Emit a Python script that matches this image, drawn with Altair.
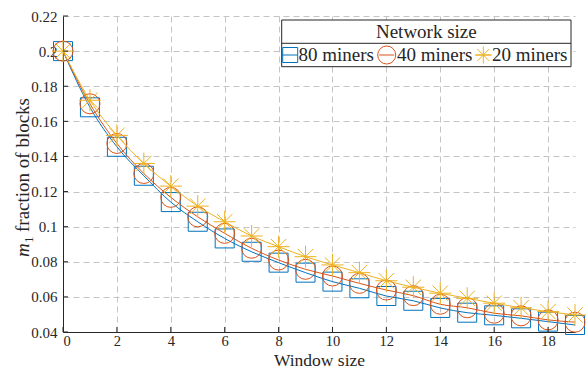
import altair as alt
import pandas as pd

# Fraction of blocks mined by m1 versus window size, for three network sizes
window = list(range(20))
m80 = [0.200, 0.168, 0.1455, 0.129, 0.114, 0.1028, 0.0933, 0.0857, 0.0795, 0.0738,
       0.0687, 0.0649, 0.0605, 0.0578, 0.0537, 0.0510, 0.0495, 0.0478, 0.0459, 0.0440]
m40 = [0.200, 0.170, 0.1474, 0.1303, 0.1167, 0.1056, 0.0962, 0.0877, 0.0810, 0.0757,
       0.0719, 0.0677, 0.0639, 0.0607, 0.0558, 0.0538, 0.0507, 0.0492, 0.0469, 0.0456]
m20 = [0.200, 0.172, 0.152, 0.136, 0.1231, 0.1117, 0.1028, 0.0947, 0.0886, 0.0829,
       0.0782, 0.0738, 0.0692, 0.0655, 0.0621, 0.0592, 0.0564, 0.0538, 0.0516, 0.0497]

series_names = ["80 miners", "40 miners", "20 miners"]
series_values = [m80, m40, m20]
series_colors = ["#0072BD", "#D95319", "#EDB120"]

legend_title = "Network size"
x_title = "Window size"
y_title_sym = "m"
y_title_sub = "1"
y_title_rest = "fraction of blocks"

x_ticks = [0, 2, 4, 6, 8, 10, 12, 14, 16, 18]
y_ticks = [0.04, 0.06, 0.08, 0.10, 0.12, 0.14, 0.16, 0.18, 0.20, 0.22]

STAR = "M-1,0L1,0M0,-1L0,1M-0.7,-0.7L0.7,0.7M-0.7,0.7L0.7,-0.7"
marker_shapes = ["square", "circle", STAR]
marker_sizes = [361, 400, 484]
legend_marker_sizes = [225, 324, 289]

FONT = "Liberation Serif"
INK = "#262626"
W, H = 512, 316

x_scale = alt.Scale(domain=[0, 19], nice=False, zero=False)
y_scale = alt.Scale(domain=[0.04, 0.22], nice=False, zero=False)

grid_style = dict(grid=True, gridDash=[6, 4], gridColor="#c4c4c4", gridWidth=1,
                  ticks=False, domainColor=INK, domainWidth=1, labelOverlap=False,
                  labelFont=FONT, labelColor=INK)

x_axis = alt.Axis(values=x_ticks, format="d", title=x_title, labelPadding=2,
                  labelFontSize=14.5,
                  titleFont=FONT, titleFontSize=17.5, titleFontWeight="normal",
                  titleColor=INK, titleBaseline="alphabetic", titleY=33,
                  **grid_style)
y_axis = alt.Axis(values=y_ticks, format=".2~f", title=None, labelPadding=6,
                  labelFontSize=15, **grid_style)


def xq(field):
    return alt.X(field, type="quantitative", scale=x_scale, axis=x_axis)


def yq(field):
    return alt.Y(field, type="quantitative", scale=y_scale, axis=y_axis)


layers = []

# series lines and markers
for name, vals, col, shp, sz in zip(series_names, series_values, series_colors,
                                    marker_shapes, marker_sizes):
    df = pd.DataFrame({"window": window, "m1": vals, "series": name})
    layers.append(alt.Chart(df).mark_line(color=col, strokeWidth=1,
                                          interpolate="monotone").encode(
        x=xq("window"), y=yq("m1")))
    layers.append(alt.Chart(df).mark_point(shape=shp, size=sz, filled=False,
                                           color=col, strokeWidth=1,
                                           opacity=1).encode(
        x=xq("window"), y=yq("m1")))

# inward tick marks
xt = pd.DataFrame({"window": x_ticks})
yt = pd.DataFrame({"m1": y_ticks})
layers.append(alt.Chart(xt).mark_rule(color=INK, strokeWidth=1).encode(
    x=xq("window"), y=alt.value(H), y2=alt.value(H - 5)))
layers.append(alt.Chart(yt).mark_rule(color=INK, strokeWidth=1).encode(
    y=yq("m1"), x=alt.value(0), x2=alt.value(5)))

# legend box
one = pd.DataFrame({"t": [legend_title]})
box_l, box_r, box_t, box_b, box_mid = 218.7, 508, 4, 50.7, 27.3
layers.append(alt.Chart(one).mark_rect(fill="white", stroke=INK, strokeWidth=1).encode(
    x=alt.value(box_l), x2=alt.value(box_r), y=alt.value(box_t), y2=alt.value(box_b)))
layers.append(alt.Chart(one).mark_rule(color=INK, strokeWidth=1).encode(
    x=alt.value(box_l), x2=alt.value(box_r), y=alt.value(box_mid)))
layers.append(alt.Chart(one).mark_text(font=FONT, fontSize=19, color=INK,
                                       align="center", baseline="middle").encode(
    x=alt.value((box_l + box_r) / 2), y=alt.value(16), text="t:N"))

legend_marker_x = [227.2, 323.7, 420.3]
legend_text_x = [235.5, 334, 429]
row_y = 39
for name, col, shp, sz, mx, tx in zip(series_names, series_colors, marker_shapes,
                                      legend_marker_sizes, legend_marker_x, legend_text_x):
    d = pd.DataFrame({"t": [name]})
    layers.append(alt.Chart(d).mark_rule(color=col, strokeWidth=1).encode(
        x=alt.value(mx - 7.5), x2=alt.value(mx + 7.5), y=alt.value(row_y)))
    layers.append(alt.Chart(d).mark_point(shape=shp, size=sz, filled=False, color=col,
                                          strokeWidth=1, opacity=1).encode(
        x=alt.value(mx), y=alt.value(row_y)))
    layers.append(alt.Chart(d).mark_text(font=FONT, fontSize=19, color=INK,
                                         align="left", baseline="middle").encode(
        x=alt.value(tx), y=alt.value(row_y), text="t:N"))

# rotated y-axis title with italic symbol and subscript
yt_df = pd.DataFrame({"a": [y_title_sym], "b": [y_title_sub], "c": [y_title_rest]})
base_x = -34
layers.append(alt.Chart(yt_df).mark_text(font=FONT, fontSize=19, fontStyle="italic",
                                         color=INK, angle=270, align="left",
                                         baseline="alphabetic").encode(
    x=alt.value(base_x), y=alt.value(241), text="a:N"))
layers.append(alt.Chart(yt_df).mark_text(font=FONT, fontSize=13, color=INK, angle=270,
                                         align="left", baseline="alphabetic").encode(
    x=alt.value(base_x + 4), y=alt.value(227), text="b:N"))
layers.append(alt.Chart(yt_df).mark_text(font=FONT, fontSize=19, color=INK, angle=270,
                                         align="left", baseline="alphabetic").encode(
    x=alt.value(base_x), y=alt.value(216), text="c:N"))

chart = alt.layer(*layers).properties(
    width=W, height=H,
    padding={"left": 63, "top": 16, "right": 11, "bottom": 38},
    autosize=alt.AutoSizeParams(type="none"),
    background="white",
).configure_view(stroke=None).configure_axis(labelFont=FONT, titleFont=FONT)

chart.save("out.html", embed_options={"renderer": "svg", "actions": False})
